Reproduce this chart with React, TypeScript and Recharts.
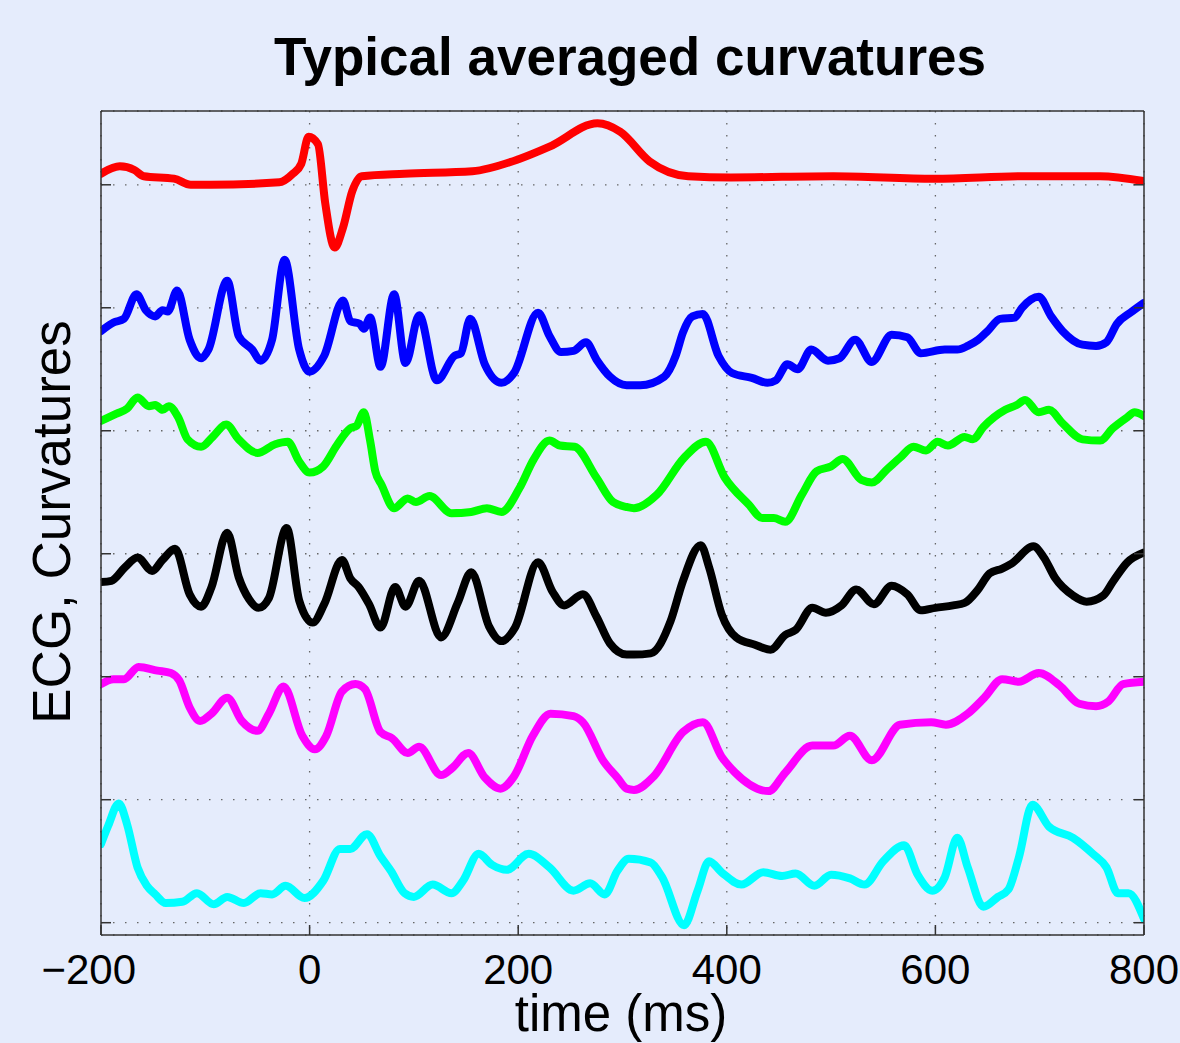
import React from "react";
import { LineChart, Line, XAxis, YAxis, CartesianGrid } from "recharts";

// chart frame (px)
const WIDTH = 1180;
const HEIGHT = 1043;
const PLOT_LEFT = 101;
const PLOT_TOP = 111;
const PLOT_RIGHT = 1144;
const PLOT_BOTTOM = 935;

const BG = "#e5ecfc";
const AXIS = "#333333";
const FONT = "'Liberation Sans', Arial, Helvetica, sans-serif";

const X_TICKS = [-200, 0, 200, 400, 600, 800];
const Y_TICKS = [0, 1, 2, 3, 4, 5, 6];

// [time ms, offset value] — each trace sits on its own grid line
const ecg: [number, number][] = [
  [-200, 6.09], [-182, 6.15], [-168, 6.12], [-159, 6.07], [-130, 6.05], [-114, 6.0],
  [-95, 6.0], [-29, 6.02], [-16, 6.09], [-8, 6.17], [-1, 6.39], [8, 6.33], [15, 5.85],
  [24, 5.49], [32, 5.65], [41, 5.95], [50, 6.07], [91, 6.09], [156, 6.11], [201, 6.21],
  [230, 6.31], [276, 6.5], [298, 6.43], [326, 6.19], [363, 6.07], [404, 6.06],
  [502, 6.07], [599, 6.05], [686, 6.07], [758, 6.07], [800, 6.03],
];

const curvBlue: [number, number][] = [
  [-200, 4.81], [-188, 4.88], [-178, 4.91], [-166, 5.11], [-157, 4.98], [-148, 4.93],
  [-141, 4.98], [-136, 4.97], [-127, 5.14], [-115, 4.74], [-104, 4.59], [-97, 4.66],
  [-79, 5.22], [-68, 4.77], [-55, 4.66], [-47, 4.57], [-36, 4.74], [-24, 5.39],
  [-10, 4.66], [0, 4.48], [14, 4.61], [32, 5.06], [39, 4.89], [48, 4.87], [52, 4.83],
  [58, 4.92], [68, 4.52], [81, 5.11], [92, 4.55], [105, 4.94], [122, 4.41], [139, 4.61],
  [145, 4.63], [154, 4.91], [168, 4.54], [184, 4.39], [196, 4.47], [219, 4.96],
  [230, 4.77], [241, 4.64], [253, 4.65], [265, 4.72], [275, 4.58], [288, 4.44],
  [304, 4.37], [317, 4.37], [340, 4.44], [351, 4.61], [358, 4.8], [367, 4.93],
  [377, 4.95], [392, 4.61], [405, 4.47], [424, 4.43], [439, 4.39], [447, 4.41],
  [458, 4.54], [468, 4.5], [481, 4.66], [497, 4.57], [508, 4.59], [523, 4.74],
  [539, 4.56], [558, 4.78], [573, 4.76], [586, 4.63], [609, 4.66], [621, 4.66],
  [631, 4.69], [641, 4.74], [650, 4.81], [662, 4.91], [676, 4.92], [683, 5.0],
  [699, 5.09], [711, 4.93], [722, 4.81], [741, 4.7], [754, 4.69], [764, 4.72],
  [774, 4.87], [787, 4.96], [800, 5.04],
];

const curvGreen: [number, number][] = [
  [-200, 4.08], [-185, 4.14], [-175, 4.18], [-165, 4.27], [-154, 4.2], [-148, 4.21],
  [-141, 4.17], [-135, 4.2], [-126, 4.11], [-117, 3.93], [-104, 3.87], [-93, 3.95],
  [-80, 4.05], [-68, 3.93], [-50, 3.82], [-33, 3.89], [-21, 3.91], [-10, 3.75],
  [0, 3.66], [13, 3.71], [26, 3.88], [39, 4.02], [45, 4.04], [52, 4.15], [58, 3.92],
  [63, 3.67], [69, 3.56], [81, 3.37], [94, 3.45], [102, 3.42], [115, 3.47], [136, 3.33],
  [155, 3.34], [170, 3.37], [184, 3.34], [201, 3.53], [215, 3.77], [230, 3.92],
  [240, 3.88], [254, 3.87], [275, 3.62], [291, 3.42], [304, 3.38], [311, 3.37],
  [333, 3.48], [359, 3.78], [380, 3.91], [398, 3.62], [421, 3.4], [434, 3.29],
  [445, 3.29], [456, 3.26], [472, 3.48], [486, 3.67], [500, 3.71], [511, 3.77],
  [529, 3.6], [539, 3.58], [554, 3.69], [566, 3.78], [579, 3.87], [591, 3.84],
  [602, 3.91], [612, 3.88], [628, 3.95], [636, 3.93], [646, 4.03], [667, 4.17],
  [678, 4.21], [686, 4.25], [699, 4.15], [709, 4.17], [722, 4.06], [741, 3.93],
  [758, 3.92], [770, 4.02], [784, 4.11], [791, 4.15], [800, 4.12],
];

const curvBlack: [number, number][] = [
  [-200, 2.77], [-190, 2.78], [-177, 2.89], [-165, 2.97], [-151, 2.86], [-141, 2.95],
  [-129, 3.04], [-115, 2.67], [-104, 2.57], [-94, 2.73], [-79, 3.17], [-68, 2.81],
  [-58, 2.63], [-49, 2.56], [-39, 2.64], [-22, 3.21], [-10, 2.62], [3, 2.44],
  [14, 2.59], [31, 2.95], [39, 2.8], [47, 2.73], [57, 2.59], [68, 2.4], [82, 2.73],
  [92, 2.57], [105, 2.78], [126, 2.32], [142, 2.6], [155, 2.85], [172, 2.41],
  [184, 2.29], [197, 2.4], [219, 2.93], [233, 2.69], [244, 2.58], [262, 2.67],
  [275, 2.49], [288, 2.27], [304, 2.18], [311, 2.18], [327, 2.19], [346, 2.45],
  [358, 2.78], [375, 3.07], [383, 2.89], [395, 2.51], [409, 2.32], [427, 2.26],
  [442, 2.22], [456, 2.34], [466, 2.38], [482, 2.56], [495, 2.52], [510, 2.58],
  [524, 2.71], [541, 2.59], [558, 2.74], [573, 2.67], [586, 2.54], [600, 2.56],
  [617, 2.58], [628, 2.6], [641, 2.71], [652, 2.84], [664, 2.88], [673, 2.92],
  [694, 3.06], [704, 2.97], [715, 2.8], [732, 2.66], [745, 2.61], [761, 2.66],
  [770, 2.77], [784, 2.93], [800, 3.01],
];

const curvMagenta: [number, number][] = [
  [-200, 1.94], [-188, 1.98], [-178, 1.98], [-164, 2.08], [-146, 2.05], [-133, 2.03],
  [-125, 1.97], [-115, 1.75], [-105, 1.64], [-94, 1.7], [-79, 1.83], [-65, 1.64],
  [-50, 1.56], [-39, 1.7], [-25, 1.92], [-7, 1.52], [5, 1.41], [16, 1.52], [31, 1.88],
  [44, 1.94], [53, 1.9], [68, 1.55], [79, 1.5], [94, 1.38], [105, 1.43], [126, 1.2],
  [137, 1.26], [152, 1.38], [168, 1.18], [183, 1.09], [196, 1.19], [214, 1.52],
  [231, 1.7], [253, 1.68], [262, 1.63], [282, 1.31], [295, 1.18], [304, 1.09],
  [311, 1.08], [330, 1.19], [358, 1.55], [377, 1.63], [395, 1.35], [408, 1.22],
  [440, 1.07], [456, 1.22], [482, 1.44], [502, 1.44], [518, 1.52], [539, 1.32],
  [566, 1.61], [596, 1.63], [610, 1.61], [631, 1.7], [647, 1.83], [664, 1.98],
  [680, 1.96], [699, 2.03], [719, 1.93], [738, 1.78], [754, 1.76], [766, 1.8],
  [780, 1.94], [800, 1.96],
];

const curvCyan: [number, number][] = [
  [-200, 0.64], [-193, 0.79], [-183, 0.97], [-175, 0.8], [-165, 0.45], [-156, 0.3],
  [-148, 0.23], [-138, 0.16], [-122, 0.17], [-108, 0.24], [-92, 0.15], [-79, 0.21],
  [-63, 0.16], [-47, 0.24], [-36, 0.23], [-23, 0.3], [-5, 0.2], [13, 0.34], [29, 0.6],
  [39, 0.6], [55, 0.72], [68, 0.54], [78, 0.42], [91, 0.24], [100, 0.21], [118, 0.31],
  [136, 0.24], [147, 0.34], [162, 0.56], [175, 0.47], [189, 0.43], [210, 0.56],
  [230, 0.45], [253, 0.26], [269, 0.32], [283, 0.23], [295, 0.42], [306, 0.52],
  [327, 0.49], [338, 0.37], [359, -0.02], [372, 0.26], [383, 0.5], [395, 0.41],
  [414, 0.31], [435, 0.41], [453, 0.38], [466, 0.4], [484, 0.3], [500, 0.39],
  [518, 0.36], [532, 0.31], [550, 0.5], [570, 0.63], [583, 0.39], [597, 0.26],
  [609, 0.37], [621, 0.69], [631, 0.45], [646, 0.13], [660, 0.21], [670, 0.27],
  [680, 0.53], [693, 0.96], [709, 0.78], [732, 0.69], [751, 0.56], [764, 0.45],
  [775, 0.24], [785, 0.24], [800, 0.03],
];

const toPoints = (pairs: [number, number][]) => pairs.map(([t, v]) => ({ t, v }));

const SERIES = [
  { key: "ecg", color: "#ff0000", data: toPoints(ecg) },
  { key: "blue", color: "#0000ff", data: toPoints(curvBlue) },
  { key: "green", color: "#00ff00", data: toPoints(curvGreen) },
  { key: "black", color: "#000000", data: toPoints(curvBlack) },
  { key: "magenta", color: "#ff00ff", data: toPoints(curvMagenta) },
  { key: "cyan", color: "#00ffff", data: toPoints(curvCyan) },
];

const TICK_FS = 42;

// matlab-style label: digits centred on the tick, minus sign hanging to the left
function TimeTick(props: any) {
  const { x, payload } = props;
  const val = payload.value as number;
  const digits = String(Math.abs(val));
  const half = (digits.length * 0.556 * TICK_FS) / 2;
  const y = PLOT_BOTTOM + 49;
  return (
    <g>
      <text x={x} y={y} textAnchor="middle" fontSize={TICK_FS} fontFamily={FONT} fill="#000">
        {digits}
      </text>
      {val < 0 && (
        <text x={x - half} y={y} textAnchor="end" fontSize={TICK_FS} fontFamily={FONT} fill="#000">
          −
        </text>
      )}
    </g>
  );
}

// keeps the tick lines (and grid) but draws no label
const NoLabel = () => <g />;

export default function App() {
  return (
    <div style={{ position: "absolute", left: 0, top: 0, width: WIDTH, height: HEIGHT, background: BG }}>
      <LineChart
        width={WIDTH}
        height={HEIGHT}
        margin={{ top: PLOT_TOP, right: WIDTH - PLOT_RIGHT, bottom: HEIGHT - PLOT_BOTTOM, left: PLOT_LEFT }}
      >
        <CartesianGrid stroke="#666" strokeWidth={1.3} strokeDasharray="1.5 10.5" />
        <XAxis
          dataKey="t"
          type="number"
          domain={[-200, 800]}
          ticks={X_TICKS}
          allowDataOverflow
          mirror
          tickSize={10}
          tick={<TimeTick />}
          stroke={AXIS}
          strokeWidth={1.5}
        />
        <XAxis
          xAxisId="top"
          orientation="top"
          type="number"
          domain={[-200, 800]}
          ticks={X_TICKS}
          allowDataOverflow
          mirror
          tickSize={10}
          tick={<NoLabel />}
          stroke={AXIS}
          strokeWidth={1.5}
        />
        <YAxis
          type="number"
          domain={[-0.1, 6.6]}
          ticks={Y_TICKS}
          allowDataOverflow
          mirror
          tickSize={10}
          tick={<NoLabel />}
          stroke={AXIS}
          strokeWidth={1.5}
        />
        <YAxis
          yAxisId="right"
          orientation="right"
          type="number"
          domain={[-0.1, 6.6]}
          ticks={Y_TICKS}
          allowDataOverflow
          mirror
          tickSize={10}
          tick={<NoLabel />}
          stroke={AXIS}
          strokeWidth={1.5}
        />
        {SERIES.map((s) => (
          <Line
            key={s.key}
            data={s.data}
            dataKey="v"
            type="monotone"
            stroke={s.color}
            strokeWidth={8}
            strokeLinejoin="round"
            strokeLinecap="round"
            dot={false}
            activeDot={false}
            isAnimationActive={false}
          />
        ))}
      </LineChart>
      <svg
        width={WIDTH}
        height={HEIGHT}
        style={{ position: "absolute", left: 0, top: 0, pointerEvents: "none" }}
      >
        <text x={630} y={75} textAnchor="middle" fontSize={53} fontWeight="bold" fontFamily={FONT}>
          Typical averaged curvatures
        </text>
        <text x={621} y={1031} textAnchor="middle" fontSize={51} fontFamily={FONT}>
          time (ms)
        </text>
        <text
          x={0}
          y={0}
          transform="translate(70 522) rotate(-90)"
          textAnchor="middle"
          fontSize={53}
          fontFamily={FONT}
        >
          ECG, Curvatures
        </text>
      </svg>
    </div>
  );
}
